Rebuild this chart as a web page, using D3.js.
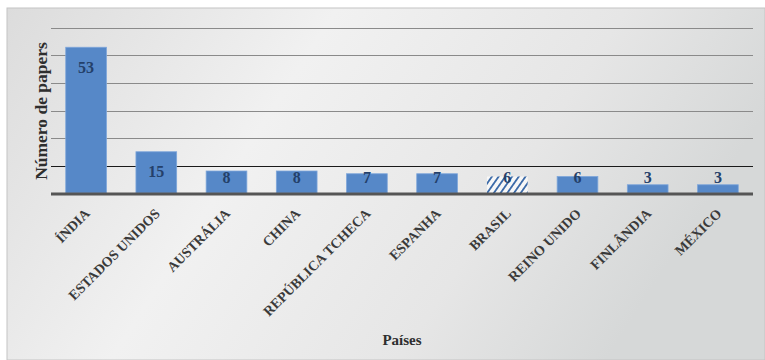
<!DOCTYPE html>
<html>
<head>
<meta charset="utf-8">
<script src="https://cdn.jsdelivr.net/npm/d3@7"></script>
<style>
  body { margin: 0; background: #fff; }
  svg { display: block; }
  text { font-family: "Liberation Serif", "DejaVu Serif", serif; font-weight: bold; }
</style>
</head>
<body>
<div id="chart"><svg width="765" height="360"></svg></div>
<script>
// data
const countries = ["ÍNDIA", "ESTADOS UNIDOS", "AUSTRÁLIA", "CHINA", "REPÚBLICA TCHECA",
                   "ESPANHA", "BRASIL", "REINO UNIDO", "FINLÂNDIA", "MÉXICO"];
const papers = [53, 15, 8, 8, 7, 7, 6, 6, 3, 3];
const highlighted = ["BRASIL"];
const gridTicks = [10, 20, 30, 40, 50, 60];

const width = 765, height = 360;
const margin = {top: 28, right: 12, bottom: 167, left: 51};

const svg = d3.select('#chart').select('svg');
const defs = svg.append('defs');

const bg = defs.append('linearGradient').attr('id', 'bg')
    .attr('x1', '0%').attr('x2', '100%').attr('y1', '0%').attr('y2', '30%');
bg.append('stop').attr('offset', '0%').attr('stop-color', '#dcdcdc');
bg.append('stop').attr('offset', '40%').attr('stop-color', '#f1f1f1');
bg.append('stop').attr('offset', '75%').attr('stop-color', '#e6e6e6');
bg.append('stop').attr('offset', '100%').attr('stop-color', '#d6d8d8');

const hatch = defs.append('pattern').attr('id', 'hatch')
    .attr('patternUnits', 'userSpaceOnUse')
    .attr('width', 5.5).attr('height', 6)
    .attr('patternTransform', 'rotate(35)');
hatch.append('rect').attr('width', 5.5).attr('height', 6).attr('fill', '#f7f7f7');
hatch.append('rect').attr('width', 1.8).attr('height', 6).attr('fill', '#3b6aa8');

// panel
svg.append('rect')
    .attr('x', 7).attr('y', 8)
    .attr('width', width - 7).attr('height', height - 8)
    .attr('fill', 'url(#bg)')
    .attr('stroke', '#c4c4c4');

const w = width - margin.left - margin.right,
      h = height - margin.top - margin.bottom;

const g = svg.append('g')
    .attr('transform', 'translate(' + margin.left + ',' + margin.top + ')');

const x = d3.scaleBand().domain(countries).range([0, w]).paddingInner(0.42).paddingOuter(0.21);
const y = d3.scaleLinear().domain([0, 60]).range([h, 0]);

// gridlines
g.selectAll('.grid').data(gridTicks).enter()
    .append('line')
    .attr('x1', 0).attr('x2', w)
    .attr('y1', d => Math.round(y(d)) + 0.5).attr('y2', d => Math.round(y(d)) + 0.5)
    .attr('stroke', d => d === 10 ? '#1a1a1a' : '#8a8a8a')
    .attr('stroke-width', 1.2);

// bars
g.selectAll('.bar').data(countries).enter()
    .append('rect')
    .attr('x', d => x(d))
    .attr('y', (d, i) => y(papers[i]))
    .attr('width', x.bandwidth())
    .attr('height', (d, i) => h - y(papers[i]))
    .attr('fill', d => highlighted.includes(d) ? 'url(#hatch)' : '#5688c8')
    .attr('stroke', d => highlighted.includes(d) ? 'none' : '#7ea6da')
    .attr('stroke-width', 0.8);

// value labels
g.selectAll('.val').data(countries).enter()
    .append('text')
    .attr('x', d => x(d) + x.bandwidth() / 2)
    .attr('y', (d, i) => Math.min(y(papers[i]) + 20, y(5.5)))
    .attr('dy', '0.35em')
    .attr('text-anchor', 'middle')
    .attr('font-size', 16)
    .attr('fill', '#24406a')
    .text((d, i) => papers[i]);

// baseline
g.append('line')
    .attr('x1', 0).attr('x2', w)
    .attr('y1', h + 1).attr('y2', h + 1)
    .attr('stroke', '#555')
    .attr('stroke-width', 3);

// x labels
const xAxis = g.append('g')
    .attr('transform', 'translate(0,' + h + ')')
    .call(d3.axisBottom(x).tickSize(0).tickPadding(0));
xAxis.select('.domain').remove();
xAxis.selectAll('text')
    .attr('font-family', '"Liberation Serif", serif')
    .attr('font-weight', 'bold')
    .attr('font-size', 14)
    .attr('fill', '#3a3a3a')
    .attr('text-anchor', 'end')
    .attr('dy', '0.35em')
    .attr('transform', 'translate(1,18) rotate(-45)');

// axis titles
svg.append('text')
    .attr('transform', 'translate(41,111) rotate(-90)')
    .attr('text-anchor', 'middle')
    .attr('dy', '0.35em')
    .attr('font-size', 17.5)
    .attr('fill', '#2e2e2e')
    .text('Número de papers');

svg.append('text')
    .attr('x', 402).attr('y', 340)
    .attr('text-anchor', 'middle')
    .attr('dy', '0.35em')
    .attr('font-size', 15)
    .attr('fill', '#2e2e2e')
    .text('Países');
</script>
</body>
</html>
